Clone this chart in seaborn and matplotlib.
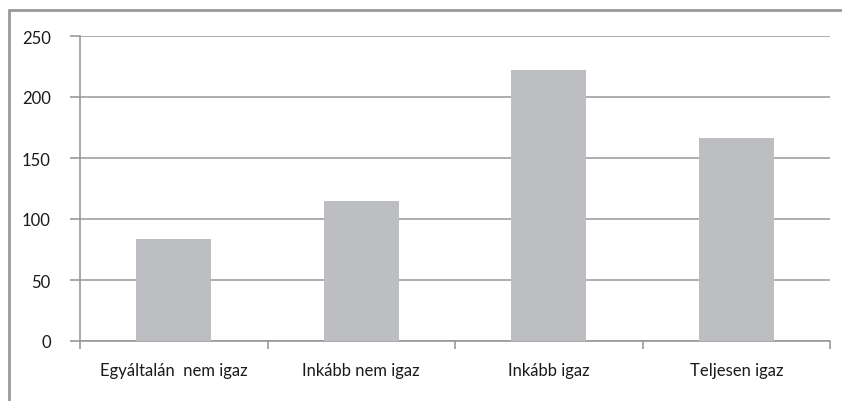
import matplotlib
matplotlib.use("Agg")
import matplotlib.pyplot as plt
import seaborn as sns
import pandas as pd
from matplotlib.lines import Line2D

categories = ["Egyáltalán  nem igaz", "Inkább nem igaz", "Inkább igaz", "Teljesen igaz"]
values = [84, 115, 222, 166]
yticks = [0, 50, 100, 150, 200, 250]

sns.set_theme(style="white")
plt.rcParams['font.family'] = ['Lato', 'DejaVu Sans']

df = pd.DataFrame({"cat": categories, "val": values})

W, H = 842, 402
fig = plt.figure(figsize=(W / 100, H / 100), dpi=100)
ax = fig.add_axes([80 / W, 1 - 342 / H, 750 / W, 305 / H])

sns.barplot(data=df, x="cat", y="val", color="#BDBEC2", width=0.4, ax=ax,
            saturation=1, zorder=3, edgecolor="none", linewidth=0)

ax.set_ylim(0, 250)
ax.set_xlim(-0.5, 3.5)
ax.set_yticks(yticks)
ax.set_yticklabels([str(t) for t in yticks], fontsize=12, color="#1a1a1a")
ax.set_xlabel("")
ax.set_ylabel("")
ax.tick_params(axis="x", labelsize=12, labelcolor="#1a1a1a", length=0, pad=15)
ax.tick_params(axis="y", length=7, width=1.2, color="#999999", pad=14, left=True)
ax.set_xticks([-0.5, 0.5, 1.5, 2.5, 3.5], minor=True)
ax.tick_params(axis="x", which="minor", length=6, width=1.2, color="#999999", bottom=True)

ax.grid(axis="y", color="#A0A0A0", linewidth=1.2, zorder=0)
ax.set_axisbelow(True)
for s in ["top", "right"]:
    ax.spines[s].set_visible(False)
for s in ["left", "bottom"]:
    ax.spines[s].set_color("#999999")
    ax.spines[s].set_linewidth(1.2)

# figure border (top and left)
fig.add_artist(Line2D([8.5 / W, 1.0], [1 - 11 / H, 1 - 11 / H], transform=fig.transFigure,
                      color="#999999", linewidth=2))
fig.add_artist(Line2D([8.5 / W, 8.5 / W], [0, 1 - 11 / H], transform=fig.transFigure,
                      color="#999999", linewidth=2))

fig.savefig("out.png", dpi=100, facecolor="white")
